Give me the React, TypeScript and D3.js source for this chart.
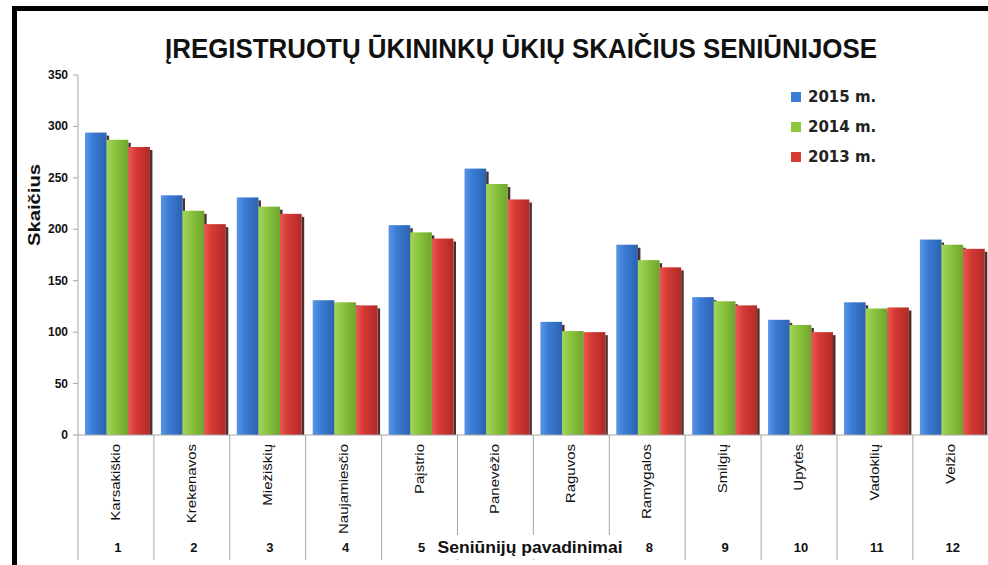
import React from "react";
import * as d3 from "d3";

const categories = ["Karsakiškio", "Krekenavos", "Miežiškių", "Naujamiesčio", "Paįstrio", "Panevėžio", "Raguvos", "Ramygalos", "Smilgių", "Upytės", "Vadoklių", "Velžio"];
const categoryNumbers = ["1", "2", "3", "4", "5", "6", "7", "8", "9", "10", "11", "12"];
const seriesNames = ["2015 m.", "2014 m.", "2013 m."];
const values2015 = [294, 233, 231, 131, 204, 259, 110, 185, 134, 112, 129, 190];
const values2014 = [287, 218, 222, 129, 197, 244, 101, 170, 130, 107, 123, 185];
const values2013 = [280, 205, 215, 126, 191, 229, 100, 163, 126, 100, 124, 181];
const yTicks = [0, 50, 100, 150, 200, 250, 300, 350];

const seriesValues = [values2015, values2014, values2013];
const colors = ["#3b7dd6", "#8dc63f", "#d63a35"];
const darker = ["#2c62b0", "#6fa52c", "#b02a26"];
const lighter = ["#5a95e6", "#a3d65a", "#e85a52"];

const W = 988;
const H = 565;

export default function App() {
  const y = d3.scaleLinear().domain([0, 350]).range([435, 75]);
  const x0 = d3.scaleBand<string>().domain(categories).range([78, 78 + 12 * 75.9]);
  const bw = x0.bandwidth();
  const x1 = d3.scaleBand<string>().domain(seriesNames).range([7, bw - 4]);
  const axisColor = "#a6a6a6";

  const titleCx = 530;
  const titleHalf = 96;
  const numbersShown = categories
    .map((c, i) => ({ c, i, cx: x0(c)! + bw / 2 + 2 }))
    .filter((d) => Math.abs(d.cx - titleCx) > titleHalf);

  return (
    <svg width={W} height={H} style={{ position: "absolute", left: 0, top: 0, background: "#fff" }}
      fontFamily="'Liberation Sans', Arial, sans-serif">
      <defs>
        {colors.map((c, i) => (
          <linearGradient key={i} id={`g${i}`} x1="0" x2="1" y1="0" y2="0">
            <stop offset="0" stopColor={lighter[i]} />
            <stop offset="0.35" stopColor={c} />
            <stop offset="1" stopColor={darker[i]} />
          </linearGradient>
        ))}
      </defs>
      <rect x={0} y={0} width={W} height={H} fill="#fff" />
      <rect x={12} y={6} width={W - 12} height={5} fill="#000" />
      <rect x={12} y={6} width={5} height={H - 6} fill="#000" />

      <text x={521} y={58} textAnchor="middle" fontSize={27} fontWeight="bold" fill="#111"
        textLength={712} lengthAdjust="spacingAndGlyphs">
        ĮREGISTRUOTŲ ŪKININKŲ ŪKIŲ SKAIČIUS SENIŪNIJOSE
      </text>

      <line x1={78} x2={78} y1={y(350)} y2={y(0)} stroke={axisColor} strokeWidth={1} />
      {yTicks.map((t) => (
        <g key={t}>
          <line x1={73} x2={78} y1={y(t)} y2={y(t)} stroke={axisColor} />
          <text x={68} y={y(t) + 4} textAnchor="end" fontSize={12} fontWeight="bold" fill="#111">
            {t}
          </text>
        </g>
      ))}
      <text transform={`translate(40,205) rotate(-90)`} textAnchor="middle" fontSize={16} fontWeight="bold"
        fill="#111" textLength={82} lengthAdjust="spacingAndGlyphs">
        Skaičius
      </text>

      {categories.map((c, ci) => (
        <g key={c} transform={`translate(${x0(c)},0)`}>
          {seriesNames.map((s, si) => {
            const v = seriesValues[si][ci];
            const bx = x1(s)!;
            const w = x1.bandwidth();
            const top = y(v);
            return (
              <g key={s}>
                <rect x={bx + w} y={top + 3} width={2.5} height={y(0) - top - 3} fill="#2a0d0d" opacity={0.85} />
                <rect x={bx} y={top} width={w} height={y(0) - top} fill={`url(#g${si})`} />
              </g>
            );
          })}
        </g>
      ))}

      <line x1={78} x2={W} y1={y(0)} y2={y(0)} stroke={axisColor} />
      {categories.map((c) => (
        <line key={c} x1={x0(c)!} x2={x0(c)!} y1={y(0)} y2={560} stroke={axisColor} />
      ))}
      {categories.map((c) => {
        const cx = x0(c)! + bw / 2;
        return (
          <text key={c} transform={`translate(${cx + 4},444) rotate(-90) scale(1.25,1)`} textAnchor="end"
            fontSize={12} fill="#111">
            {c}
          </text>
        );
      })}
      {numbersShown.map((d) => (
        <text key={d.c} x={d.cx} y={552} textAnchor="middle" fontSize={13} fontWeight="bold" fill="#111">
          {categoryNumbers[d.i]}
        </text>
      ))}
      <rect x={titleCx - titleHalf} y={535} width={titleHalf * 2} height={24} fill="#fff" />
      <text x={titleCx} y={553} textAnchor="middle" fontSize={16} fontWeight="bold" fill="#111"
        textLength={185} lengthAdjust="spacingAndGlyphs">
        Seniūnijų pavadinimai
      </text>

      {seriesNames.map((s, i) => (
        <g key={s} transform={`translate(791,${92 + i * 30})`}>
          <rect x={0} y={0} width={10} height={10} fill={colors[i]} />
          <text x={17} y={10} fontSize={15} fontWeight="bold" fill="#222" fontFamily="'DejaVu Sans', sans-serif">
            {s}
          </text>
        </g>
      ))}
    </svg>
  );
}
